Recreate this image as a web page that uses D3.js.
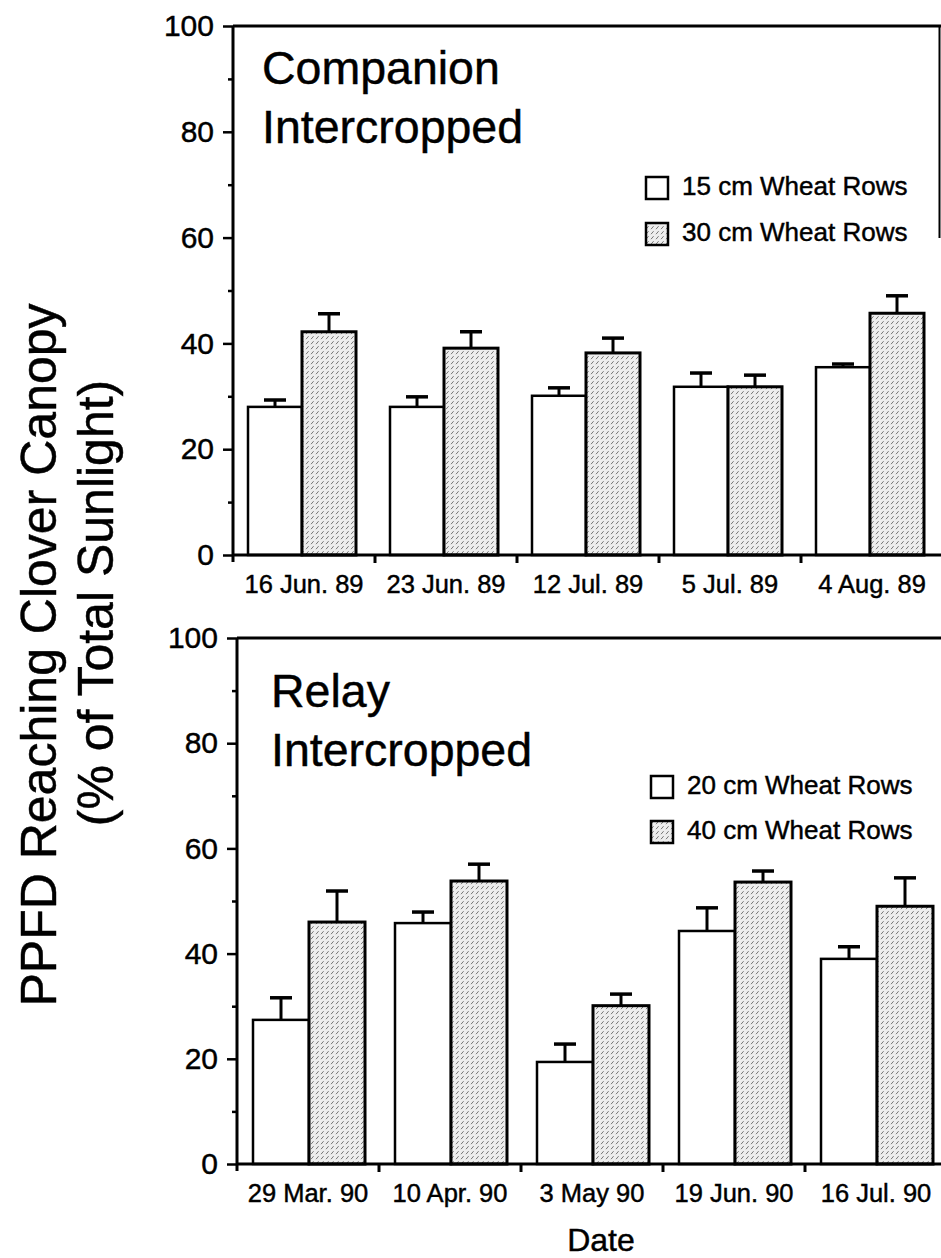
<!DOCTYPE html>
<html>
<head>
<meta charset="utf-8">
<script src="https://cdn.jsdelivr.net/npm/d3@7"></script>
<style>
  html, body { margin: 0; padding: 0; background: #fff; }
  svg { display: block; font-family: "Liberation Sans", Arial, Helvetica, sans-serif; }
  text { stroke: #000; stroke-width: 0.45px; }
</style>
</head>
<body>
<svg id="chart" width="941" height="1258"></svg>
<script>
// ---------- data ----------
const companionDates = ["16 Jun. 89", "23 Jun. 89", "12 Jul. 89", "5 Jul. 89", "4 Aug. 89"];
const companion15 = [28.0, 28.0, 30.1, 31.8, 35.5];
const companion15Err = [1.3, 1.9, 1.5, 2.6, 0.6];
const companion30 = [42.2, 39.1, 38.2, 31.8, 45.7];
const companion30Err = [3.4, 3.1, 2.8, 2.2, 3.3];

const relayDates = ["29 Mar. 90", "10 Apr. 90", "3 May 90", "19 Jun. 90", "16 Jul. 90"];
const relay20 = [27.4, 45.8, 19.4, 44.3, 39.0];
const relay20Err = [4.2, 2.1, 3.4, 4.4, 2.3];
const relay40 = [46.0, 53.8, 30.1, 53.6, 49.0];
const relay40Err = [5.9, 3.2, 2.2, 2.1, 5.4];

const majorTicks = [0, 20, 40, 60, 80, 100];
const minorTicks = [10, 30, 50, 70, 90];

const companionLegend = ["15 cm Wheat Rows", "30 cm Wheat Rows"];
const relayLegend = ["20 cm Wheat Rows", "40 cm Wheat Rows"];
const companionTitle = ["Companion", "Intercropped"];
const relayTitle = ["Relay", "Intercropped"];
const yLabel = ["PPFD Reaching Clover Canopy", "(% of Total Sunlight)"];
const xLabel = "Date";

// ---------- drawing ----------
const svg = d3.select("#chart");

const defs = svg.append("defs");
const pat = defs.append("pattern")
  .attr("id", "hatch").attr("patternUnits", "userSpaceOnUse")
  .attr("width", 5).attr("height", 5);
pat.append("rect").attr("width", 5).attr("height", 5).attr("fill", "#eeeeee");
pat.append("line").attr("x1", 1).attr("y1", 4.2).attr("x2", 3.6).attr("y2", 1.2)
  .attr("stroke", "#666").attr("stroke-width", 0.9);

function panel(cfg) {
  const g = svg.append("g");
  const y = d3.scaleLinear().domain([0, 100]).range([cfg.y0, cfg.y100]);
  const x = d3.scaleBand().domain(cfg.cats).range([cfg.x0, cfg.x0 + cfg.band * cfg.cats.length])
    .paddingInner(0).paddingOuter(0);
  const xs = d3.scaleBand().domain(["a", "b"]).range([cfg.padL, cfg.padL + 2 * cfg.barW]).padding(0);

  g.append("line").attr("x1", cfg.x0).attr("x2", 945).attr("y1", y(100)).attr("y2", y(100))
    .attr("stroke", "#000").attr("stroke-width", 3);
  if (cfg.rightBorder) {
    g.append("line").attr("x1", 939.5).attr("x2", 939.5).attr("y1", y(100)).attr("y2", cfg.rightBorder)
      .attr("stroke", "#000").attr("stroke-width", 2);
  }

  const rows = cfg.cats.map((c, i) => ({ c, i }));
  const series = [
    { key: "a", vals: cfg.v1, errs: cfg.e1, fill: "#fff", sw: 2.5 },
    { key: "b", vals: cfg.v2, errs: cfg.e2, fill: "url(#hatch)", sw: 3 }
  ];
  series.forEach(s => {
    g.append("g").selectAll("line").data(rows).join("line")
      .attr("x1", d => x(d.c) + xs(s.key) + xs.bandwidth() / 2)
      .attr("x2", d => x(d.c) + xs(s.key) + xs.bandwidth() / 2)
      .attr("y1", d => y(s.vals[d.i]))
      .attr("y2", d => y(s.vals[d.i] + s.errs[d.i]))
      .attr("stroke", "#000").attr("stroke-width", 3);
    g.append("g").selectAll("line").data(rows).join("line")
      .attr("x1", d => x(d.c) + xs(s.key) + xs.bandwidth() / 2 - 11)
      .attr("x2", d => x(d.c) + xs(s.key) + xs.bandwidth() / 2 + 11)
      .attr("y1", d => y(s.vals[d.i] + s.errs[d.i]))
      .attr("y2", d => y(s.vals[d.i] + s.errs[d.i]))
      .attr("stroke", "#000").attr("stroke-width", 3.5);
  });
  series.forEach(s => {
    g.append("g").selectAll("rect").data(rows).join("rect")
      .attr("x", d => x(d.c) + xs(s.key))
      .attr("width", xs.bandwidth())
      .attr("y", d => y(s.vals[d.i]))
      .attr("height", d => y(0) - y(s.vals[d.i]))
      .attr("fill", s.fill).attr("stroke", "#000").attr("stroke-width", s.sw);
  });

  const ya = g.append("g").attr("transform", `translate(${cfg.x0},0)`)
    .call(d3.axisLeft(y).tickValues(majorTicks).tickSize(10).tickPadding(9).tickFormat(d3.format("d")));
  ya.select(".domain").attr("stroke-width", 3).attr("d", `M0,${cfg.y0 + 7}V${y(100)}`);
  ya.selectAll(".tick line").attr("stroke-width", 2.5);
  ya.selectAll(".tick text").attr("font-size", 30).attr("font-family", "Liberation Sans, Arial, sans-serif").attr("fill", "#000");
  const ym = g.append("g").attr("transform", `translate(${cfg.x0},0)`)
    .call(d3.axisLeft(y).tickValues(minorTicks).tickSize(5).tickFormat(""));
  ym.select(".domain").remove();
  ym.selectAll(".tick line").attr("stroke-width", 2.5);

  const xa = g.append("g").attr("transform", `translate(0,${cfg.y0})`)
    .call(d3.axisBottom(x).tickSize(0).tickPadding(20));
  xa.select(".domain").attr("stroke-width", 3).attr("d", `M${cfg.x0},0H945`);
  xa.selectAll(".tick text").attr("font-size", 25.5).attr("font-family", "Liberation Sans, Arial, sans-serif").attr("fill", "#000");
  g.append("g").selectAll("line").data(cfg.cats.slice(1)).join("line")
    .attr("x1", d => x(d)).attr("x2", d => x(d))
    .attr("y1", cfg.y0).attr("y2", cfg.y0 + 8)
    .attr("stroke", "#000").attr("stroke-width", 3);

  const t = g.append("text").attr("x", cfg.titleX).attr("font-size", 46.5).attr("fill", "#000");
  cfg.title.forEach((s, i) => t.append("tspan").attr("x", cfg.titleX).attr("y", cfg.titleY + i * 59).text(s));

  const lg = g.append("g");
  cfg.legend.forEach((s, i) => {
    const yy = cfg.legY + i * cfg.legDy;
    lg.append("rect").attr("x", cfg.legX).attr("y", yy - 18).attr("width", 22).attr("height", 22)
      .attr("fill", i === 0 ? "#fff" : "url(#hatch)").attr("stroke", "#000").attr("stroke-width", 2.5);
    lg.append("text").attr("x", cfg.legX + 36).attr("y", yy).attr("font-size", 26).attr("fill", "#000").text(s);
  });
}

panel({
  cats: companionDates, v1: companion15, e1: companion15Err, v2: companion30, e2: companion30Err,
  x0: 233, band: 142, padL: 15, barW: 54, y0: 555, y100: 26,
  title: companionTitle, titleX: 262, titleY: 84,
  legend: companionLegend, legX: 646, legY: 195, legDy: 46,
  rightBorder: 238
});
panel({
  cats: relayDates, v1: relay20, e1: relay20Err, v2: relay40, e2: relay40Err,
  x0: 237, band: 142, padL: 16, barW: 56, y0: 1164, y100: 638,
  title: relayTitle, titleX: 271, titleY: 707,
  legend: relayLegend, legX: 651, legY: 794, legDy: 45,
  rightBorder: null
});

// axis labels
const yLabelPos = [[56, 655], [113, 603]];
yLabel.forEach((s, i) => {
  svg.append("text").attr("transform", `translate(${yLabelPos[i][0]},${yLabelPos[i][1]}) rotate(-90)`)
    .attr("text-anchor", "middle").attr("font-size", 50).attr("fill", "#000").text(s);
});
svg.append("text").attr("x", 601).attr("y", 1251).attr("text-anchor", "middle")
  .attr("font-size", 32).attr("fill", "#000").text(xLabel);
</script>
</body>
</html>
